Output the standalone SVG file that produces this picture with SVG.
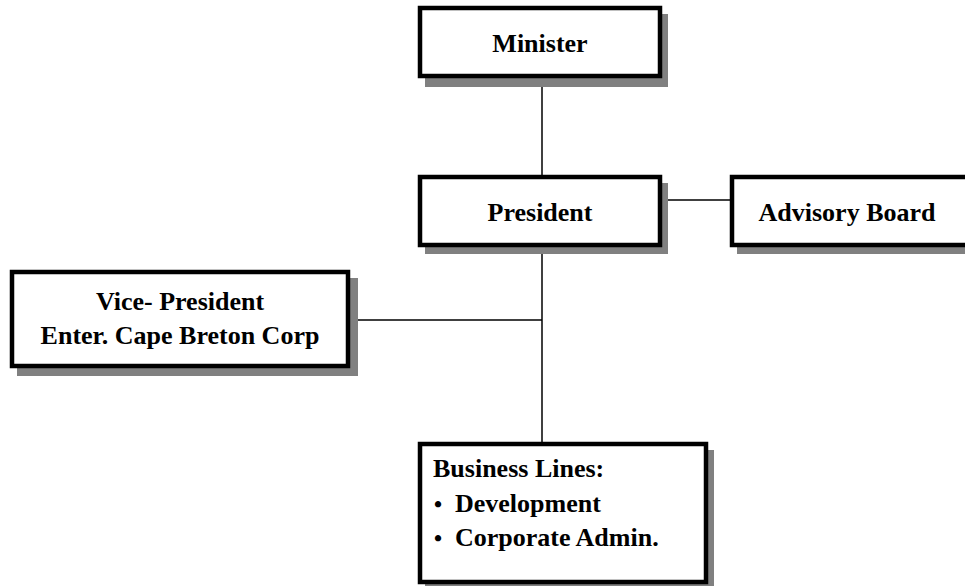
<svg xmlns="http://www.w3.org/2000/svg" width="965" height="586" viewBox="0 0 965 586">
<style>
.sh{fill:#808080;stroke:none}
.bx{fill:#fff;stroke:#000;stroke-width:4.5}
.t{font-family:"Liberation Serif","Times New Roman",serif;font-weight:bold;font-size:26px;fill:#000}
.c{text-anchor:middle}
.b{font-size:23px}
.ln{stroke:#000;stroke-width:1.5;fill:none}
</style>
<rect width="965" height="586" fill="#fff"/>
<g id="connectors">
<line class="ln" x1="542" y1="78" x2="542" y2="176"/>
<line class="ln" x1="662" y1="200" x2="730" y2="200"/>
<line class="ln" x1="542" y1="247" x2="542" y2="442"/>
<line class="ln" x1="350" y1="320" x2="542" y2="320"/>
</g>
<g id="minister">
<rect class="sh" x="425" y="14" width="243" height="73"/>
<rect class="bx" x="420" y="8" width="240" height="68"/>
<text class="t c" x="540" y="52">Minister</text>
</g>
<g id="president">
<rect class="sh" x="425" y="183" width="243" height="71"/>
<rect class="bx" x="420" y="177" width="240" height="68"/>
<text class="t c" x="540" y="221">President</text>
</g>
<g id="advisory">
<rect class="sh" x="737" y="183" width="240" height="71"/>
<rect class="bx" x="732" y="177" width="240" height="68"/>
<text class="t c" x="847" y="221">Advisory Board</text>
</g>
<g id="vicepresident">
<rect class="sh" x="17" y="278" width="341" height="98"/>
<rect class="bx" x="12" y="272" width="336" height="94"/>
<text class="t c" x="180" y="310" font-size="26.5">Vice- President</text>
<text class="t c" x="180" y="344" font-size="26.5">Enter. Cape Breton Corp</text>
</g>
<g id="businesslines">
<rect class="sh" x="425" y="450" width="289" height="140"/>
<rect class="bx" x="420" y="444" width="286" height="138"/>
<text class="t" x="433" y="477">Business Lines:</text>
<text class="t" y="512"><tspan class="b" x="434">•</tspan><tspan x="455">Development</tspan></text>
<text class="t" y="546"><tspan class="b" x="434">•</tspan><tspan x="455">Corporate Admin.</tspan></text>
</g>
</svg>
